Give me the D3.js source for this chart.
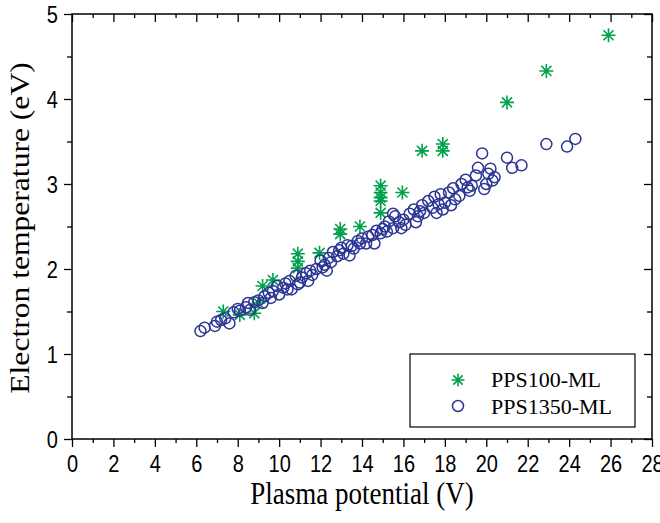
<!DOCTYPE html>
<html>
<head>
<meta charset="utf-8">
<script src="https://cdn.jsdelivr.net/npm/d3@7"></script>
<style>
  body { margin: 0; background: #fff; }
  svg { display: block; }
</style>
</head>
<body>
<div id="chart"></div>
<script>
'use strict';

// PPS100-ML (green stars): plasma potential (V), electron temperature (eV)
const pps100V = [7.3, 8.1, 8.8, 9.0, 9.2, 9.7, 10.9, 10.9, 10.9, 11.95, 12.95, 12.95, 13.9,
                 14.9, 14.9, 14.9, 14.9, 14.9, 15.95, 16.9, 17.9, 17.9, 21.0, 22.9, 25.9];
const pps100T = [1.50, 1.46, 1.48, 1.60, 1.80, 1.87, 2.18, 2.09, 2.01, 2.19, 2.47, 2.41, 2.50,
                 2.98, 2.90, 2.84, 2.80, 2.66, 2.90, 3.39, 3.47, 3.39, 3.96, 4.33, 4.75];

// PPS1350-ML (blue circles)
const pps1350V = [6.2, 6.4, 6.9, 7.0, 7.4, 7.6, 7.8, 8.0, 8.1, 8.4, 8.5, 8.8, 9.0, 9.2, 9.3,
                  9.5, 9.7, 9.9, 10.0, 10.2, 10.3, 10.5, 10.8, 10.9, 11.1, 11.3, 11.5, 11.8,
                  12.0, 12.2, 12.4, 12.6, 12.8, 13.0, 13.1, 13.3, 13.5, 13.8, 14.0, 14.2,
                  14.5, 14.7, 14.9, 15.1, 15.2, 15.3, 15.6, 15.8, 16.0, 16.3, 16.5, 16.7,
                  16.9, 17.2, 17.4, 17.5, 17.8, 17.9, 18.2, 18.4, 18.5, 18.8, 19.0, 19.2,
                  19.5, 19.6, 19.8, 20.0, 20.2, 20.4, 21.0, 21.25, 21.7, 22.9, 23.9, 24.3,
                  10.4, 11.0, 11.6, 12.1, 12.9, 13.6, 14.3, 15.0, 16.1, 16.8, 17.0, 18.0,
                  18.7, 19.3, 20.1, 9.6, 8.6, 7.2, 12.5, 13.9, 15.5, 17.7, 19.1,
                  10.6, 11.4, 12.3, 13.4, 14.6, 15.9, 16.6, 17.6, 18.3, 19.9, 20.3, 15.5];
const pps1350T = [1.27, 1.31, 1.33, 1.38, 1.42, 1.36, 1.49, 1.53, 1.51, 1.55, 1.60, 1.61,
                  1.63, 1.60, 1.68, 1.72, 1.74, 1.80, 1.70, 1.78, 1.83, 1.86, 1.92, 1.82,
                  1.90, 1.95, 1.98, 2.00, 2.10, 2.05, 2.13, 2.20, 2.15, 2.25, 2.18, 2.28,
                  2.27, 2.33, 2.36, 2.30, 2.40, 2.45, 2.42, 2.50, 2.44, 2.56, 2.62, 2.55,
                  2.58, 2.65, 2.70, 2.62, 2.75, 2.80, 2.72, 2.85, 2.88, 2.70, 2.90, 2.95,
                  2.82, 3.00, 3.05, 2.92, 3.10, 3.19, 3.36, 3.00, 3.18, 3.08, 3.31, 3.19,
                  3.22, 3.47, 3.44, 3.53,
                  1.76, 1.84, 1.93, 2.02, 2.22, 2.24, 2.38, 2.47, 2.52, 2.68, 2.66, 2.78,
                  2.86, 2.98, 3.12, 1.66, 1.52, 1.40, 2.08, 2.30, 2.48, 2.76, 2.96,
                  1.76, 1.86, 1.98, 2.16, 2.30, 2.48, 2.55, 2.66, 2.75, 2.94, 3.04, 2.65];

const xMajor = d3.range(0, 29, 2);
const xMinor = d3.range(1, 28, 2);
const yMajor = [0, 1, 2, 3, 4, 5];
const yMinor = [0.5, 1.5, 2.5, 3.5, 4.5];

const seriesNames = ['PPS100-ML', 'PPS1350-ML'];
const green = '#00a04c';
const blue = '#2b3594';
const stretch = 1.17;   // the original glyphs are drawn tall and narrow

const W = 660, H = 523;
const svg = d3.select('#chart').append('svg')
  .attr('width', W).attr('height', H)
  .style('font-family', '"Liberation Serif", "Times New Roman", serif');

const x = d3.scaleLinear().domain([0, 28]).range([72, 652]);
const y = d3.scaleLinear().domain([0, 5]).range([439, 14]);

const tickStyle = function(g) {
  g.select('.domain').remove();
  g.selectAll('line').attr('stroke', '#000').attr('stroke-width', 1.3);
  g.selectAll('text').attr('fill', '#000').style('font-size', '20px');
};

// major + minor ticks on all four sides
svg.append('g').attr('transform', `translate(0,${y(0)})`)
  .call(d3.axisBottom(x).tickValues(xMajor).tickSize(8).tickFormat(d3.format('d')))
  .call(tickStyle)
  .call(g => g.selectAll('text')
    .attr('y', null).attr('dy', null)
    .attr('transform', `translate(0,33) scale(1,${stretch})`));
svg.append('g').attr('transform', `translate(0,${y(0)})`)
  .call(d3.axisBottom(x).tickValues(xMinor).tickSize(4).tickFormat(''))
  .call(tickStyle);
svg.append('g').attr('transform', `translate(0,${y(5)})`)
  .call(d3.axisTop(x).tickValues(xMajor).tickSize(-8).tickFormat(''))
  .call(tickStyle);
svg.append('g').attr('transform', `translate(0,${y(5)})`)
  .call(d3.axisTop(x).tickValues(xMinor).tickSize(-4).tickFormat(''))
  .call(tickStyle);
svg.append('g').attr('transform', `translate(${x(0)},0)`)
  .call(d3.axisLeft(y).tickValues(yMajor).tickSize(8).tickFormat(d3.format('d')))
  .call(tickStyle)
  .call(g => g.selectAll('text')
    .attr('x', null).attr('dy', null)
    .attr('transform', `translate(-14,8) scale(1,${stretch})`));
svg.append('g').attr('transform', `translate(${x(0)},0)`)
  .call(d3.axisLeft(y).tickValues(yMinor).tickSize(5).tickFormat(''))
  .call(tickStyle);
svg.append('g').attr('transform', `translate(${x(28)},0)`)
  .call(d3.axisRight(y).tickValues(yMajor).tickSize(-8).tickFormat(''))
  .call(tickStyle);
svg.append('g').attr('transform', `translate(${x(28)},0)`)
  .call(d3.axisRight(y).tickValues(yMinor).tickSize(-5).tickFormat(''))
  .call(tickStyle);

svg.append('rect')
  .attr('x', x(0)).attr('y', y(5))
  .attr('width', x(28) - x(0)).attr('height', y(0) - y(5))
  .attr('fill', 'none').attr('stroke', '#000').attr('stroke-width', 1.5);

// asterisk marker: 4 strokes through the centre
const star = function(g, s) {
  g.append('path')
    .attr('d', `M${-s},0L${s},0M0,${-s}L0,${s}` +
               `M${-s*0.72},${-s*0.72}L${s*0.72},${s*0.72}` +
               `M${-s*0.72},${s*0.72}L${s*0.72},${-s*0.72}`)
    .attr('stroke', green).attr('stroke-width', 1.6).attr('fill', 'none');
};

const stars = svg.append('g');
d3.range(pps100V.length).forEach(function(i) {
  const g = stars.append('g')
    .attr('transform', `translate(${x(pps100V[i])},${y(pps100T[i])})`);
  star(g, 7);
});

svg.append('g').selectAll('circle')
  .data(d3.range(pps1350V.length))
  .enter()
  .append('circle')
  .attr('cx', i => x(pps1350V[i]))
  .attr('cy', i => y(pps1350T[i]))
  .attr('r', 5.5)
  .attr('fill', 'none')
  .attr('stroke', blue)
  .attr('stroke-width', 1.5);

// axis titles
svg.append('text')
  .attr('transform', `translate(${(x(0) + x(28)) / 2},504) scale(1,${stretch})`)
  .attr('text-anchor', 'middle')
  .style('font-size', '27px')
  .text('Plasma potential (V)');
svg.append('text')
  .attr('transform', `translate(29,228) rotate(-90) scale(${stretch},1)`)
  .attr('text-anchor', 'middle')
  .style('font-size', '27px')
  .text('Electron temperature (eV)');

// legend
const legend = svg.append('g');
legend.append('rect')
  .attr('x', 410).attr('y', 354).attr('width', 225).attr('height', 73)
  .attr('fill', '#fff').attr('stroke', '#000').attr('stroke-width', 1.2);
const ls = legend.append('g').attr('transform', 'translate(458,380)');
star(ls, 6.5);
legend.append('circle')
  .attr('cx', 458).attr('cy', 406).attr('r', 5.5)
  .attr('fill', 'none').attr('stroke', blue).attr('stroke-width', 1.5);
legend.selectAll('text.lab')
  .data(seriesNames)
  .enter()
  .append('text')
  .attr('class', 'lab')
  .attr('x', 491)
  .attr('y', (d, i) => 387 + i * 27)
  .style('font-size', '22px')
  .text(d => d);
</script>
</body>
</html>
